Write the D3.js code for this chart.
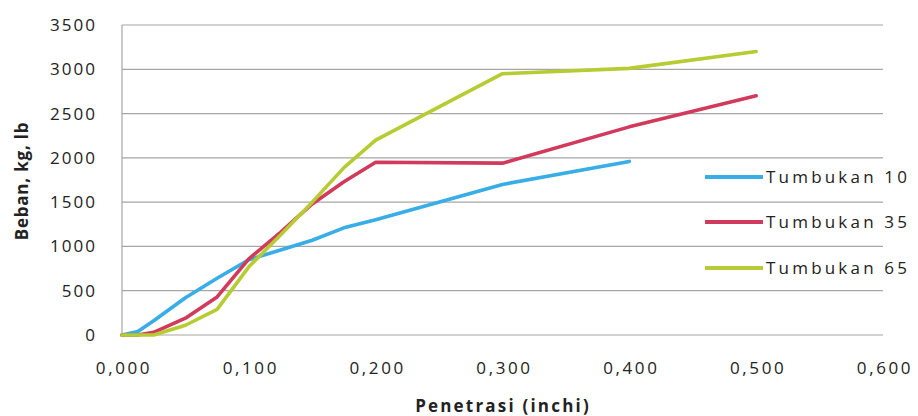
<!DOCTYPE html>
<html>
<head>
<meta charset="utf-8">
<script src="https://cdn.jsdelivr.net/npm/d3@7"></script>
<style>
  body { margin: 0; background: #fff; }
  svg text { font-family: "Open Sans", "Liberation Sans", sans-serif; fill: #222; }
</style>
</head>
<body>
<script>
// penetration points (inch) and loads per blow count
var penetrasi = [0, 0.0125, 0.025, 0.05, 0.075, 0.1, 0.125, 0.15, 0.175, 0.2, 0.3, 0.4, 0.5];
var tumbukan10 = [0, 40, 160, 420, 640, 850, 960, 1070, 1210, 1300, 1700, 1960];
var tumbukan35 = [0, 0, 30, 190, 430, 860, 1160, 1480, 1730, 1950, 1940, 2350, 2700];
var tumbukan65 = [0, 0, 0, 110, 290, 770, 1130, 1500, 1890, 2200, 2950, 3010, 3200];
var seriesNames = ["Tumbukan 10", "Tumbukan 35", "Tumbukan 65"];
var colors = ["#38ade6", "#d23a5c", "#b6cc32"];
var xTicks = [0, 0.1, 0.2, 0.3, 0.4, 0.5, 0.6];
var yTicks = [0, 500, 1000, 1500, 2000, 2500, 3000, 3500];

var width = 918, height = 416;
var plot = {left: 122, right: 883, top: 25, bottom: 335};

var svg = d3.select("body").append("svg")
  .attr("width", width)
  .attr("height", height);

var x = d3.scaleLinear().domain([0, 0.6]).range([plot.left, plot.right]);
var y = d3.scaleLinear().domain([0, 3500]).range([plot.bottom, plot.top]);

// gridlines
svg.append("g").selectAll("line")
  .data(yTicks.slice(1))
  .enter().append("line")
  .attr("x1", plot.left).attr("x2", plot.right)
  .attr("y1", d => y(d)).attr("y2", d => y(d))
  .attr("stroke", "#a6a6a6").attr("stroke-width", 1.2);

// axis lines
svg.append("line")
  .attr("x1", plot.left).attr("x2", plot.left)
  .attr("y1", plot.top).attr("y2", plot.bottom)
  .attr("stroke", "#a6a6a6").attr("stroke-width", 1.2);
svg.append("line")
  .attr("x1", plot.left).attr("x2", plot.right)
  .attr("y1", plot.bottom).attr("y2", plot.bottom)
  .attr("stroke", "#a6a6a6").attr("stroke-width", 1.2);

var fmtX = d3.format(".3f");

svg.append("g").selectAll("text")
  .data(yTicks)
  .enter().append("text")
  .attr("x", 97)
  .attr("y", d => y(d))
  .attr("dy", "0.35em")
  .attr("text-anchor", "end")
  .style("font-size", "17px")
  .style("letter-spacing", "2px")
  .text(d => d);

svg.append("g").selectAll("text")
  .data(xTicks)
  .enter().append("text")
  .attr("x", d => x(d) + 2)
  .attr("y", 368)
  .attr("dy", "0.35em")
  .attr("text-anchor", "middle")
  .style("font-size", "17px")
  .style("letter-spacing", "2.6px")
  .text(d => fmtX(d).replace(".", ","));

svg.append("text")
  .attr("x", 503).attr("y", 406)
  .attr("dy", "0.35em")
  .attr("text-anchor", "middle")
  .style("font-size", "17px").style("font-weight", "bold")
  .style("letter-spacing", "2.2px")
  .text("Penetrasi (inchi)");

svg.append("text")
  .attr("transform", "translate(22,181) rotate(-90)")
  .attr("dy", "0.35em")
  .attr("text-anchor", "middle")
  .style("font-size", "17px").style("font-weight", "bold")
  .style("letter-spacing", "0.8px")
  .text("Beban, kg, lb");

var line = d3.line()
  .x((d, i) => x(penetrasi[i]))
  .y(d => y(d));

[tumbukan10, tumbukan35, tumbukan65].forEach(function (vals, i) {
  svg.append("path")
    .datum(vals)
    .attr("d", line)
    .attr("fill", "none")
    .attr("stroke", colors[i])
    .attr("stroke-width", 3.6)
    .attr("stroke-linejoin", "round")
    .attr("stroke-linecap", "round");
});

// legend
var legendY = [177, 222, 268];
var legend = svg.append("g").selectAll("g")
  .data(seriesNames)
  .enter().append("g")
  .attr("transform", (d, i) => "translate(0," + legendY[i] + ")");
legend.append("line")
  .attr("x1", 705).attr("x2", 763)
  .attr("stroke", (d, i) => colors[i])
  .attr("stroke-width", 4);
legend.append("text")
  .attr("x", 766)
  .attr("dy", "0.35em")
  .style("font-size", "17px")
  .style("letter-spacing", "3.2px")
  .text(d => d);
</script>
</body>
</html>
